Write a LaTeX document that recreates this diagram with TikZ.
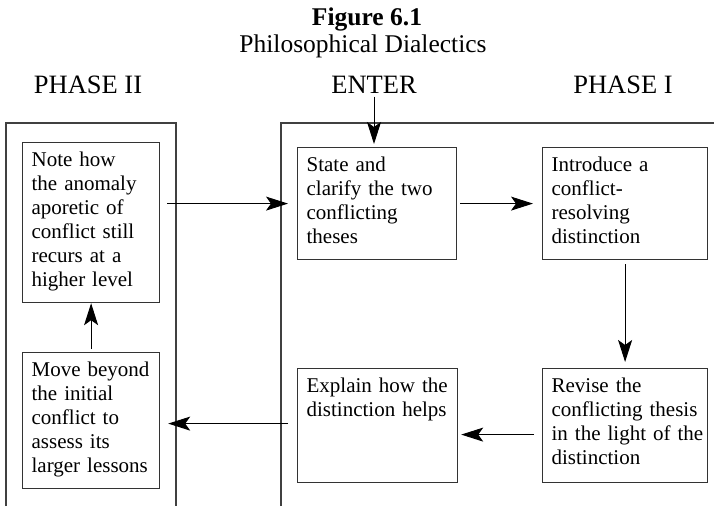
\documentclass[tikz,border=0pt]{standalone}
\usepackage{fontspec}
\setmainfont{Liberation Serif}
\usetikzlibrary{arrows.meta}

\newcommand{\boxfont}{\fontsize{21}{24}\selectfont}
\newcommand{\headfont}{\fontsize{26.5}{30}\selectfont}
\newcommand{\titlefont}{\fontsize{25.5}{28}\selectfont}

\tikzset{
  stage/.style={draw=black!80, line width=1.2pt, anchor=north west, align=left,
    inner xsep=9pt, inner ysep=0pt, text height=24pt, font=\boxfont},
  frame/.style={draw=black!75, line width=1.6pt},
  flow/.style={-{Stealth[length=22pt,width=14pt,inset=5pt]}, line width=1pt},
}

\begin{document}
\begin{tikzpicture}[x=1pt, y=-1pt]
        \useasboundingbox (0,0) rectangle (714,506);
        \node[anchor=base, font=\titlefont\bfseries] at (367, 25) (fig) {Figure 6.1};
        \node[anchor=base, font=\titlefont] at (363, 52) (title) {Philosophical Dialectics};
        \node[anchor=base, font=\headfont] at ( 88, 93) (phasetwo) {PHASE II};
        \node[anchor=base, font=\headfont] at (374, 93) (enter) {ENTER};
        \node[anchor=base, font=\headfont] at (623, 93) (phaseone) {PHASE I};
        \draw[frame] (6,506) -- (6,123) -- (176,123) -- (176,506);
        \draw[frame] (281,506) -- (281,123) -- (714,123);
        \node[stage, text width=119pt, text depth=136pt] at ( 22, 142) (note) {Note how\\ the anomaly\\ aporetic of\\ conflict still\\ recurs at a\\ higher level};
        \node[stage, text width=119pt, text depth=112pt] at ( 22, 352) (move) {Move beyond\\ the initial\\ conflict to\\ assess its\\ larger lessons};
        \node[stage, text width=141pt, text depth=88pt] at (297, 147) (state) {State and\\ clarify the two\\ conflicting\\ theses};
        \node[stage, text width=147pt, text depth=88pt] at (542, 147) (intro) {Introduce a\\ conflict-\\ resolving\\ distinction};
        \node[stage, text width=142pt, text depth=90pt] at (297, 368) (explain) {\mbox{Explain how the}\\ \mbox{distinction helps}};
        \node[stage, text width=147pt, text depth=90pt] at (542, 368) (revise) {Revise the\\ \mbox{conflicting thesis}\\ \mbox{in the light of the}\\ distinction};
        \draw[flow, shorten >=3pt] (enter.south) -- (enter.south |- state.north);
        \draw[flow, shorten <=7pt, shorten >=9pt] (note.east |- state.west) -- (state.west);
        \draw[flow, shorten <=3pt, shorten >=9pt] (state.east) -- (intro.west);
        \draw[flow, shorten <=4pt, shorten >=6pt] (intro.south) -- (revise.north);
        \draw[flow, shorten <=8pt, shorten >=3pt] ([yshift=-9pt]revise.west) -- ([yshift=-9pt]revise.west -| explain.east);
        \draw[flow, shorten <=9pt, shorten >=8pt] ([yshift=2pt]explain.west) -- ([yshift=2pt]explain.west -| move.east);
        \draw[flow, shorten <=3pt] (move.north) -- (note.south);
    \end{tikzpicture}
\end{document}
